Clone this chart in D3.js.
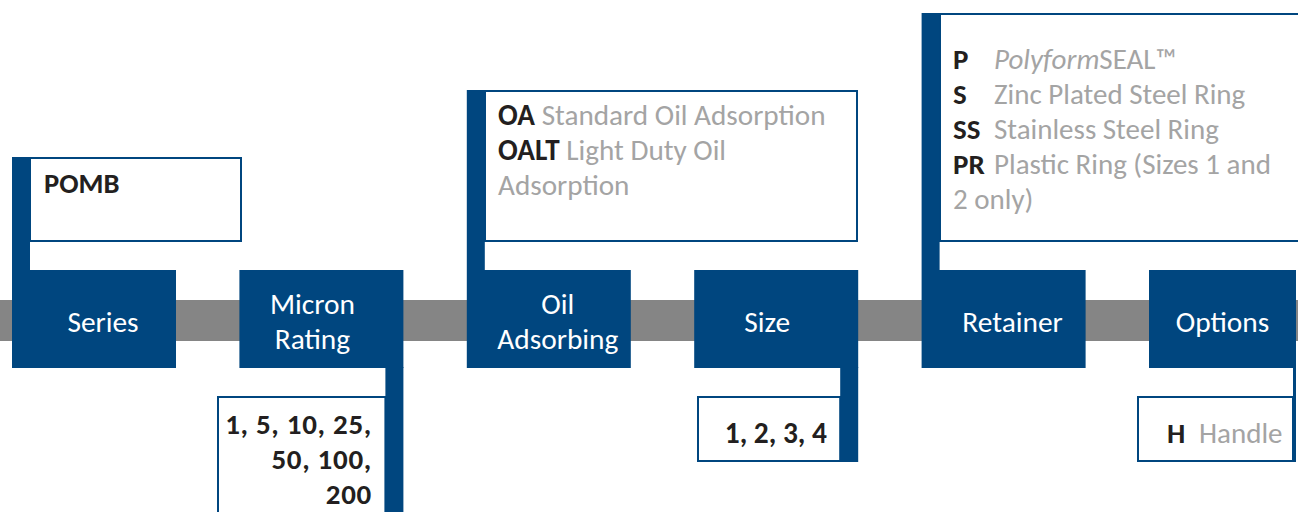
<!DOCTYPE html>
<html><head><meta charset="utf-8">
<script src="https://cdn.jsdelivr.net/npm/d3@7"></script>
<style>html,body{margin:0;padding:0;background:#fff;}svg{display:block;}</style>
</head><body>
<svg id="c" width="1298" height="512"></svg>
<script>
// ---- data ----
const steps = ["Series", "Micron\nRating", "Oil\nAdsorbing", "Size", "Retainer", "Options"];
// detail text for each step (lines of segments: code = bold black, desc = gray)
const seriesLines = [[{code: "POMB"}]];
const micronLines = [[{code: "1, 5, 10, 25,"}], [{code: "50, 100,"}], [{code: "200"}]];
const oilLines = [
  [{code: "OA"}, {desc: " Standard Oil Adsorption"}],
  [{code: "OALT"}, {desc: " Light Duty Oil"}],
  [{desc: "Adsorption"}]
];
const sizeLines = [[{code: "1, 2, 3, 4"}]];
const retainerLines = [
  [{code: "P"}, {desc: "Polyform", italic: true, tab: true}, {desc: "SEAL™"}],
  [{code: "S"}, {desc: "Zinc Plated Steel Ring", tab: true}],
  [{code: "SS"}, {desc: "Stainless Steel Ring", tab: true}],
  [{code: "PR"}, {desc: "Plastic Ring (Sizes 1 and", tab: true}],
  [{desc: "2 only)"}]
];
const optionLines = [[{code: "H"}, {desc: "Handle", tab: true}]];
const details = [seriesLines, micronLines, oilLines, sizeLines, retainerLines, optionLines];

// ---- layout ----
const W = 1298, H = 512;
const BLUE = "#00467f", GRAY = "#858585", BLACK = "#231f20", LGRAY = "#a4a4a4";
const FONT = "Carlito, Calibri, Lato, sans-serif";
const boxW = 164, stemW = 18, boxTop = 270, boxBot = 368;
const x = d3.scaleLinear().domain([0, steps.length - 1]).range([12, 1149]);
// detail box layout per step (position/sizes, not data)
const layout = [
  {side: "up", left: 30, right: 242, top: 157, textX: 44, base: 193, anchor: "start", fs: 28.6},
  {side: "down", left: 217, right: 386, bottom: 530, textX: 372, base: 433.5, anchor: "end", fs: 29, ls: 0.7},
  {side: "up", left: 485, right: 858, top: 90, textX: 498, base: 124.5, anchor: "start", fs: 29.2},
  {side: "down", left: 697, right: 840, bottom: 462, textX: 827, base: 443, anchor: "end", fs: 29.4},
  {side: "up", left: 940, right: 1310, top: 13, textX: 953, base: 68.5, anchor: "start", tabX: 994, fs: 29},
  {side: "down", left: 1137, right: 1294, bottom: 462, textX: 1167, base: 443, anchor: "start", tabX: 1199, fs: 29}
];
const lineH = 35;
const svg = d3.select("#c");

// gray spine
svg.append("rect").attr("x", 0).attr("y", 300).attr("width", W).attr("height", 41).attr("fill", GRAY);

steps.forEach((label, i) => {
  const bx = x(i);
  const L = layout[i];
  const right = Math.min(bx + boxW, 1296);
  const g = svg.append("g");
  if (L.side === "up") {
    g.append("rect").attr("x", L.left).attr("y", L.top + 1).attr("width", L.right - L.left - 1)
      .attr("height", 242 - L.top - 2).attr("fill", "#fff").attr("stroke", BLUE).attr("stroke-width", 2);
    g.append("rect").attr("x", bx).attr("y", L.top).attr("width", stemW).attr("height", boxTop - L.top).attr("fill", BLUE);
  } else {
    const stemX = i === 5 ? 1293 : bx + boxW - stemW;
    const sw = i === 5 ? 3 : stemW;
    g.append("rect").attr("x", L.left + 1).attr("y", 397).attr("width", stemX - L.left - 1)
      .attr("height", L.bottom - 398).attr("fill", "#fff").attr("stroke", BLUE).attr("stroke-width", 2);
    g.append("rect").attr("x", stemX).attr("y", boxBot - 1).attr("width", sw).attr("height", L.bottom - boxBot + 1).attr("fill", BLUE);
  }
  // main box
  g.append("rect").attr("x", bx).attr("y", boxTop).attr("width", right - bx).attr("height", boxBot - boxTop).attr("fill", BLUE);
  // label
  let cx;
  if (L.side === "up") cx = (bx + stemW + right) / 2;
  else cx = i === 5 ? (bx + right) / 2 : (bx + right - stemW) / 2;
  const parts = label.split("\n");
  const t = g.append("text").attr("text-anchor", "middle").attr("fill", "#fff")
    .attr("font-family", FONT).attr("font-size", 29.4);
  parts.forEach((p, k) => {
    const cy = 321.5 + (k - (parts.length - 1) / 2) * 35;
    t.append("tspan").attr("x", cx).attr("y", cy + 10).text(p);
  });

  // detail text
  const lines = details[i];
  lines.forEach((segs, k) => {
    const tt = g.append("text").attr("font-family", FONT).attr("font-size", L.fs)
      .attr("text-anchor", L.anchor).attr("y", L.base + k * lineH);
    if (L.ls) tt.attr("letter-spacing", L.ls);
    let first = true;
    segs.forEach(s => {
      const sp = tt.append("tspan");
      if (first) sp.attr("x", L.textX);
      if (s.tab && L.tabX) sp.attr("x", L.tabX);
      first = false;
      if (s.code !== undefined) sp.text(s.code).attr("font-weight", "bold").attr("fill", BLACK);
      else sp.text(s.desc).attr("fill", LGRAY).attr("font-style", s.italic ? "italic" : "normal");
    });
  });
});
</script>
</body></html>
